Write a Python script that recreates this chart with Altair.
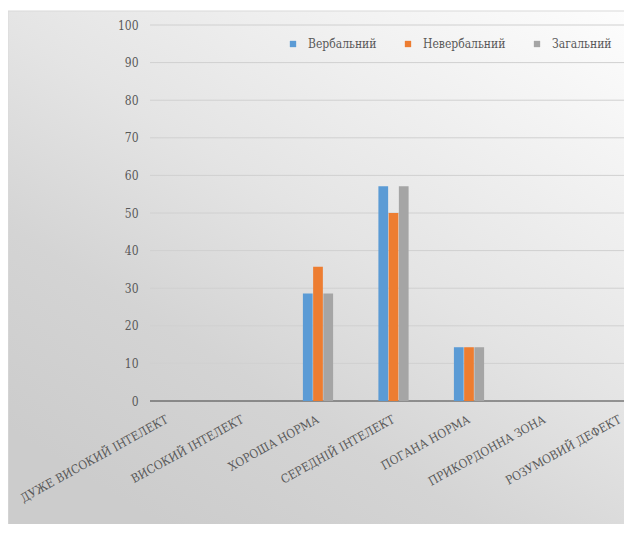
import altair as alt
import pandas as pd

categories = [
    "ДУЖЕ ВИСОКИЙ ІНТЕЛЕКТ",
    "ВИСОКИЙ ІНТЕЛЕКТ",
    "ХОРОША НОРМА",
    "СЕРЕДНІЙ ІНТЕЛЕКТ",
    "ПОГАНА  НОРМА",
    "ПРИКОРДОННА ЗОНА",
    "РОЗУМОВИЙ ДЕФЕКТ",
]
series = ["Вербальний", "Невербальний", "Загальний"]
verbal = [0, 0, 28.6, 57.1, 14.3, 0, 0]
nonverbal = [0, 0, 35.7, 50.0, 14.3, 0, 0]
total = [0, 0, 28.6, 57.1, 14.3, 0, 0]
colors = ["#5B9BD5", "#ED7D31", "#A5A5A5"]
y_ticks = [0, 10, 20, 30, 40, 50, 60, 70, 80, 90, 100]

rows = []
for s, vals in zip(series, [verbal, nonverbal, total]):
    for c, v in zip(categories, vals):
        rows.append({"cat": c, "series": s, "value": v})
df = pd.DataFrame(rows)
grid_df = pd.DataFrame({"value": y_ticks})

FONT = "DejaVu Serif Condensed, DejaVu Serif, serif"
TXT = "#595959"
W, H = 474, 376
PB = 123
FS = 12

y_enc = alt.Y(
    "value:Q",
    scale=alt.Scale(domain=[0, 100], nice=False),
    axis=alt.Axis(
        values=y_ticks, grid=False, ticks=False, domain=False, title=None,
        labelFont=FONT, labelFontSize=FS, labelColor=TXT, labelPadding=12,
        zindex=1,
    ),
)

gradient = alt.LinearGradient(
    gradient="linear",
    stops=[
        alt.GradientStop(offset=0, color="#fdfdfd"),
        alt.GradientStop(offset=0.5, color="#e4e4e4"),
        alt.GradientStop(offset=0.75, color="#d4d4d4"),
        alt.GradientStop(offset=1, color="#cccccc"),
    ],
    x1=1, y1=0, x2=0.25, y2=1,
)

bg = alt.Chart(pd.DataFrame({"a": [0]})).mark_rect(
    fill=gradient, stroke="#d9d9d9", strokeWidth=1
).encode(
    x=alt.value(-142), x2=alt.value(W + 2), y=alt.value(-14), y2=alt.value(H + PB + 2)
)

grid = alt.Chart(grid_df).mark_rule(strokeWidth=1).encode(
    y=y_enc,
    color=alt.condition(alt.datum.value == 0, alt.value("#404040"), alt.value("#d0d0d0")),
)

bars = alt.Chart(df).mark_bar().encode(
    x=alt.X(
        "cat:N", sort=categories,
        scale=alt.Scale(range=[-20.75, 507.75], paddingInner=0.6, paddingOuter=0.3),
        axis=alt.Axis(
            title=None, ticks=False, domain=False, labelAngle=331,
            labelAlign="right", labelBaseline="middle", labelPadding=17,
            labelFont=FONT, labelFontSize=FS, labelColor=TXT,
            labelLimit=0, labelOverlap=False, labelFlush=False, zindex=1,
        ),
    ),
    xOffset=alt.XOffset("series:N", sort=series, scale=alt.Scale(paddingInner=0.05)),
    y=y_enc,
    color=alt.Color(
        "series:N", sort=series,
        scale=alt.Scale(domain=series, range=colors),
        legend=alt.Legend(
            title=None, orient="none", direction="horizontal",
            legendX=137, legendY=13, padding=0,
            symbolType="square", symbolSize=40, symbolStrokeWidth=0,
            labelFont=FONT, labelFontSize=FS, labelColor=TXT,
            labelOffset=9, columnPadding=25,
        ),
    ),
)

chart = alt.layer(bg, grid, bars).properties(
    width=W, height=H,
    autosize=alt.AutoSizeParams(type="none"),
    padding={"left": 142, "top": 17, "right": 0, "bottom": PB},
).configure_view(stroke=None)

chart.save("out.html", embed_options={"renderer": "svg", "actions": False})
